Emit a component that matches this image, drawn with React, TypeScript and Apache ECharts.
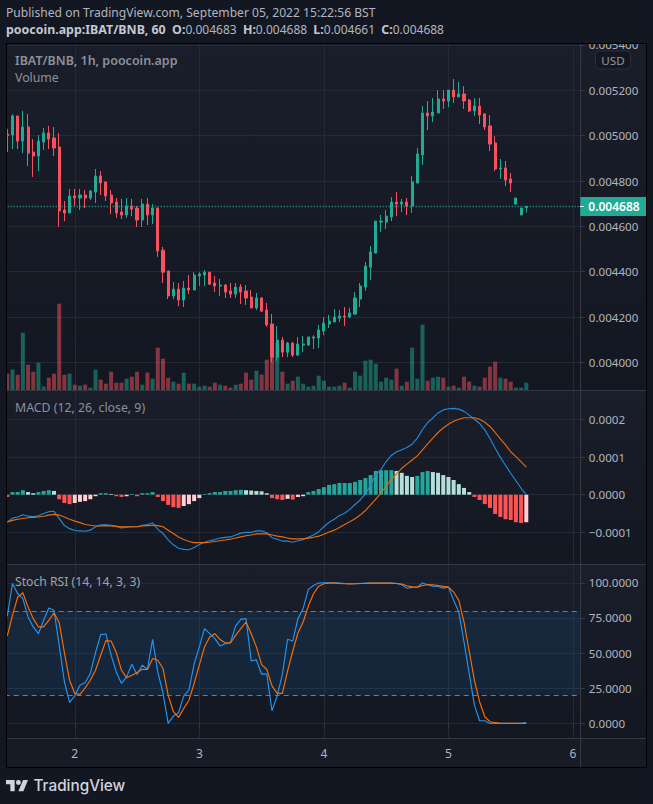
import React, { useEffect, useRef } from "react";
import * as echarts from "echarts";

// Prices in millionths of BNB
const opens = [5007,5003,5087,4976,5038,4928,4910,4972,5012,4990,
4950,4672,4659,4734,4725,4738,4725,4751,4822,4796,
4738,4707,4663,4650,4690,4681,4628,4698,4650,4681,
4495,4403,4293,4323,4275,4328,4319,4381,4385,4398,
4350,4337,4341,4315,4301,4332,4315,4288,4240,4284,
4231,4169,4023,4098,4045,4085,4032,4076,4076,4107,
4107,4138,4169,4178,4195,4204,4200,4213,4279,4332,
4420,4482,4619,4619,4641,4707,4698,4707,4690,4791,
4915,5100,5087,5100,5162,5153,5201,5171,5184,5157,
5109,5131,5096,5043,4968,4853,4857,4809,4698,4650,4683];
const closes = [5001,5087,4976,5038,4923,4910,4976,5012,4985,4946,
4668,4659,4734,4725,4738,4725,4756,4822,4791,4734,
4703,4659,4650,4690,4676,4628,4698,4650,4681,4491,
4398,4293,4323,4275,4328,4319,4385,4390,4398,4345,
4337,4341,4310,4301,4332,4310,4284,4240,4284,4226,
4165,4023,4098,4045,4085,4032,4081,4081,4112,4112,
4143,4173,4182,4200,4204,4200,4218,4284,4337,4425,
4487,4623,4623,4645,4707,4698,4707,4690,4796,4919,
5100,5087,5104,5162,5153,5201,5171,5184,5153,5109,
5131,5091,5038,4963,4853,4857,4804,4791,4725,4681,4688];
const highs = [5029,5094,5087,5109,5095,4985,5003,5034,5043,5038,
5012,4712,4765,4765,4765,4760,4760,4853,4844,4796,
4760,4725,4721,4725,4721,4690,4721,4725,4698,4681,
4509,4403,4354,4350,4359,4385,4398,4398,4407,4398,
4381,4368,4345,4350,4350,4345,4341,4319,4306,4288,
4262,4213,4160,4112,4090,4090,4112,4116,4112,4120,
4165,4200,4209,4235,4231,4244,4240,4310,4350,4443,
4513,4623,4650,4672,4729,4751,4721,4725,4822,4946,
5131,5153,5166,5201,5201,5201,5250,5237,5219,5162,
5166,5166,5100,5091,4998,4897,4888,4835,4725,4681,4688];
const lows = [4928,4941,4941,4923,4866,4818,4844,4937,4941,4910,
4597,4623,4659,4690,4672,4681,4716,4703,4738,4712,
4654,4637,4632,4637,4645,4597,4597,4606,4610,4465,
4350,4279,4279,4248,4244,4301,4319,4337,4337,4341,
4310,4293,4284,4284,4284,4257,4253,4240,4231,4222,
4156,4001,4006,4023,4023,4023,4028,4045,4072,4059,
4063,4120,4151,4178,4178,4160,4195,4209,4244,4315,
4363,4482,4575,4588,4623,4645,4663,4650,4659,4791,
4871,5025,5060,5100,5118,5126,5144,5171,5118,5104,
5087,5051,5025,4932,4844,4809,4778,4751,4698,4650,4661];
// Volume, in arbitrary units (the axis has no labels)
const volumes = [49,61,46,172,76,55,82,10,37,49,
259,46,49,16,13,16,7,61,31,19,
55,22,22,34,40,55,16,52,34,127,
94,37,25,19,52,19,19,10,13,10,
22,16,13,7,16,19,52,31,58,46,
91,118,142,55,19,28,40,19,10,13,
43,28,10,10,13,22,7,55,43,88,
91,79,25,37,31,64,13,25,127,34,
196,28,37,40,37,10,13,7,40,25,
13,10,37,70,85,37,34,25,7,7,22];
// MACD, in millionths
const macdLine = [-73,-62,-59,-53,-57,-58,-56,-50,-45,-44,
-63,-82,-90,-95,-96,-97,-94,-85,-80,-80,
-81,-84,-88,-86,-85,-85,-81,-79,-75,-92,
-103,-120,-133,-142,-145,-146,-140,-132,-126,-122,
-119,-115,-113,-112,-107,-102,-100,-100,-96,-96,
-101,-114,-118,-123,-123,-126,-122,-119,-113,-107,
-98,-85,-73,-65,-55,-49,-39,-26,-14,2,
26,52,67,88,104,114,119,125,134,150,
173,191,204,217,225,228,229,227,221,211,
200,189,172,149,123,99,78,57,37,17,0];
const signalLine = [-72,-68,-65,-63,-61,-60,-59,-57,-54,-52,
-54,-59,-65,-70,-74,-79,-81,-83,-83,-82,
-83,-84,-85,-85,-85,-85,-83,-82,-81,-82,
-85,-94,-103,-112,-119,-124,-127,-127,-127,-126,
-124,-122,-120,-118,-115,-112,-109,-107,-104,-104,
-104,-107,-110,-112,-115,-117,-117,-117,-115,-113,
-110,-105,-99,-94,-87,-79,-72,-64,-54,-42,
-27,-12,4,23,41,55,70,81,92,103,
119,135,150,165,177,187,195,200,204,204,
204,200,192,181,165,148,132,114,101,87,73];
const histogram = [-6,7,7,12,7,4,7,10,12,10,
-12,-22,-25,-22,-19,-17,-12,-4,4,4,
2,-4,-6,-4,2,-4,4,4,7,-6,
-17,-27,-33,-35,-30,-25,-17,-9,2,4,
7,7,10,10,12,13,12,11,10,9,
4,-9,-12,-14,-11,-13,-6,-4,7,10,
15,20,26,28,31,31,31,34,39,44,
52,63,65,65,65,63,58,50,47,50,
60,63,60,58,52,47,39,28,18,7,
-6,-14,-25,-35,-51,-59,-65,-67,-73,-75,-73];
// Stoch RSI
const stochK = [76.1,99.5,92.2,88.7,75.7,68.6,63.8,73.3,82.0,80.4,
55.6,29.6,14.9,19.6,27.2,29.1,35.5,50.4,63.1,63.6,
48.5,36.6,28.4,33.1,42.1,34.8,41.4,38.5,59.8,36.6,
21.3,0,5.2,7.6,19.6,23.6,42.1,54.4,67.4,63.8,
60.3,55.1,56.7,57.4,69.3,74.0,74.5,44.4,45.2,35.0,
35.0,9.0,19.6,34.8,59.8,58.6,74.5,81.6,95.3,98.1,
99.8,100,100,100,99.8,99.5,99.3,99.3,99.5,99.8,
99.8,99.8,99.8,99.8,99.8,99.5,98.6,96.2,96.7,96.9,
99.8,98.6,97.6,97.4,96.2,96.9,87.5,79.2,57.9,35.5,
13.0,1.9,1.9,0,0,0,0,0,0,0.1,0.5];
const stochD = [62.2,76.8,89.8,92.9,82.7,74.5,68.6,68.6,73.3,78.5,
71.6,50.4,30.7,21.3,20.6,25.3,30.7,37.8,48.5,58.9,
58.6,50.4,37.8,32.4,34.3,36.2,38.5,38.3,46.1,44.9,
39.0,20.1,8.3,4.3,10.6,16.5,28.4,41.4,54.4,61.5,
63.8,59.6,57.2,57.2,62.6,67.4,72.1,63.8,54.4,41.8,
38.3,26.7,21.3,21.3,37.1,51.3,64.3,72.1,83.5,92.2,
97.6,99.3,99.8,99.8,99.5,99.3,99.1,99.3,99.5,99.5,
99.8,99.8,99.8,99.8,99.8,99.5,99.1,97.9,97.2,96.9,
98.1,98.6,98.6,98.1,97.4,96.9,93.4,87.5,72.1,51.3,
30.7,15.4,4.7,1.2,0.5,0,0,0,0,0,0];
const dayTicks: Record<number, string> = { 13: "2", 37: "3", 61: "4", 85: "5", 109: "6" };
const categories = Array.from({ length: 111 }, (_, i) => dayTicks[i] ?? "");
const priceTicks = [0.0054, 0.0052, 0.005, 0.0048, 0.0046, 0.0044, 0.0042, 0.004];
const macdTicks = [0.0002, 0.0001, 0, -0.0001];
const stochTicks = [100, 75, 50, 25, 0];
const lastPrice = 0.004688;

const PAGE = "#131722";
const UP = "#22ab94";
const DOWN = "#f7525f";
const GRID = "#252934";
const SEP = "#343843";
const LABEL = "#b2b5be";
const FONT = "'Noto Sans', 'Open Sans', sans-serif";
const FS = 11.6;

const TV_LOGO =
  "M14 22H7V11H0V4h14v18zM28 22h-8l7.5-18h8L28 22zM24 8a4 4 0 1 1-8 0a4 4 0 0 1 8 0z";

const isDay = (_i: number, v: string) => v !== "";

function xAxis(gridIndex: number, last: boolean) {
  return {
    type: "category",
    gridIndex,
    data: categories,
    boundaryGap: true,
    axisLine: { show: false },
    axisTick: last
      ? { show: true, length: 4, interval: isDay, alignWithLabel: true, lineStyle: { color: SEP } }
      : { show: false },
    axisLabel: last
      ? { show: true, interval: isDay, color: LABEL, fontFamily: FONT, fontSize: 12, margin: 9 }
      : { show: false },
    splitLine: {
      show: true,
      interval: isDay,
      alignWithLabel: true,
      lineStyle: { color: GRID, width: 1 },
    },
  };
}

function yAxis(gridIndex: number, min: number, max: number, ticks: number[], fmt: (v: number) => string) {
  return {
    type: "value",
    gridIndex,
    position: "right",
    min,
    max,
    axisLine: { show: false },
    axisTick: { show: true, length: 4, customValues: ticks, lineStyle: { color: SEP } },
    axisLabel: {
      show: true,
      customValues: ticks,
      formatter: fmt,
      color: LABEL,
      fontFamily: FONT,
      fontSize: FS,
      margin: 8,
    },
    splitLine: { show: true, lineStyle: { color: GRID, width: 1 } },
  };
}

function paneBg(top: number, bottom: number) {
  return {
    type: "rect",
    silent: true,
    z: -10,
    shape: { x: 7, y: top, width: 639, height: bottom - top },
    style: {
      fill: new echarts.graphic.LinearGradient(0, 0, 0, 1, [
        { offset: 0, color: "#1a1e2a" },
        { offset: 1, color: "#131722" },
      ]),
    },
  };
}

function hLine(x1: number, y1: number, x2: number, y2: number, stroke: string, z: number) {
  return { type: "line", silent: true, z, shape: { x1, y1, x2, y2 }, style: { stroke, lineWidth: 1 } };
}

function txt(x: number, y: number, text: string, fill: string, extra: object = {}) {
  return {
    type: "text",
    silent: true,
    z: 60,
    x,
    y,
    style: { text, fill, fontFamily: FONT, fontSize: 12, verticalAlign: "middle", ...extra },
  };
}

export default function App() {
  const ref = useRef<HTMLDivElement>(null);
  useEffect(() => {
    document.body.style.margin = "0";
    document.body.style.background = PAGE;
    echarts.graphic.registerShape("tvlogo", echarts.graphic.extendPath(TV_LOGO, {}));
    const chart = echarts.init(ref.current!, undefined, { renderer: "svg" });
    const candle = opens.map((o, i) => [o / 1e6, closes[i] / 1e6, lows[i] / 1e6, highs[i] / 1e6]);
    const line = (name: string, data: number[], color: string, xi: number, extra: object = {}) => ({
      name,
      type: "line",
      xAxisIndex: xi,
      yAxisIndex: xi === 1 ? 2 : 3,
      data,
      showSymbol: false,
      symbol: "none",
      z: 4,
      lineStyle: { color, width: 1.15 },
      ...extra,
    });
    chart.setOption({
      animation: false,
      backgroundColor: PAGE,
      grid: [
        { left: 4.7, width: 576.09, top: 43.5, height: 346.5 },
        { left: 4.7, width: 576.09, top: 390.5, height: 173.5 },
        { left: 4.7, width: 576.09, top: 564.5, height: 173.8 },
      ],
      xAxis: [xAxis(0, false), xAxis(1, false), xAxis(2, true)],
      yAxis: [
        yAxis(0, 0.003878, 0.0054066, priceTicks, (v) => v.toFixed(6)),
        { type: "value", gridIndex: 0, min: 0, max: 1040, show: false, splitLine: { show: false } },
        yAxis(1, -0.0001838, 0.0002764, macdTicks, (v) =>
          (Math.abs(v) < 1e-9 ? "0.0000" : v.toFixed(4)).replace("-", "\u2212")
        ),
        yAxis(2, -10.6, 113, stochTicks, (v) => v.toFixed(4)),
      ],
      series: [
        {
          name: "Volume",
          type: "bar",
          xAxisIndex: 0,
          yAxisIndex: 1,
          barWidth: 4,
          z: 1,
          data: volumes.map((v, i) => ({
            value: v,
            itemStyle: { color: closes[i] >= opens[i] ? "rgba(34,171,148,0.5)" : "rgba(247,82,95,0.5)" },
          })),
        },
        {
          name: "IBAT/BNB",
          type: "candlestick",
          xAxisIndex: 0,
          yAxisIndex: 0,
          barWidth: 2.6,
          z: 3,
          data: candle,
          itemStyle: { color: UP, color0: DOWN, borderColor: UP, borderColor0: DOWN, borderWidth: 1 },
        },
        {
          name: "Last price",
          type: "line",
          xAxisIndex: 0,
          yAxisIndex: 0,
          symbol: "none",
          showSymbol: false,
          lineStyle: { opacity: 0 },
          z: 20,
          data: closes.map((c, i) => (i === closes.length - 1 ? lastPrice : null)),
          markLine: {
            silent: true,
            symbol: "none",
            z: 20,
            precision: 6,
            lineStyle: { color: UP, type: [1, 2], width: 1.3 },
            label: {
              show: true,
              position: "end",
              distance: -0.5,
              formatter: () => lastPrice.toFixed(6),
              color: "#ffffff",
              backgroundColor: UP,
              fontFamily: FONT,
              fontSize: 12,
              fontWeight: 600,
              padding: [3.5, 9, 3.5, 8],
            },
            data: [{ yAxis: lastPrice }],
          },
        },
        {
          name: "Histogram",
          type: "bar",
          xAxisIndex: 1,
          yAxisIndex: 2,
          barWidth: 4,
          z: 2,
          data: histogram.map((v, i) => {
            const prev = i > 0 ? histogram[i - 1] : 0;
            const color =
              v >= 0 ? (v >= prev ? "#26a69a" : "#b2dfdb") : v < prev ? "#ff5252" : "#ffcdd2";
            return { value: v / 1e6, itemStyle: { color } };
          }),
        },
        line("MACD", macdLine.map((v) => v / 1e6), "#2189d8", 1),
        line("Signal", signalLine.map((v) => v / 1e6), "#e86a0a", 1),
        line("%K", stochK, "#2196f3", 2, {
          markArea: {
            silent: true,
            itemStyle: { color: "rgba(33,150,243,0.1)" },
            data: [[{ yAxis: 80 }, { yAxis: 20 }]],
          },
          markLine: {
            silent: true,
            symbol: "none",
            label: { show: false },
            lineStyle: { color: "#787b86", type: [5, 4], width: 1 },
            data: [{ yAxis: 80 }, { yAxis: 20 }],
          },
        }),
        line("%D", stochD, "#ff6d00", 2),
      ],
      graphic: [
        paneBg(43, 390),
        paneBg(390, 564),
        paneBg(564, 738),
        { type: "rect", silent: true, z: -10, shape: { x: 7, y: 738, width: 639, height: 29 }, style: { fill: "#171b26" } },
        // frame
        { type: "rect", silent: true, z: 50, shape: { x: 0, y: 0, width: 653, height: 43 }, style: { fill: PAGE } },
        { type: "rect", silent: true, z: 50, shape: { x: 0, y: 0, width: 6.5, height: 804 }, style: { fill: PAGE } },
        { type: "rect", silent: true, z: 50, shape: { x: 0, y: 767, width: 653, height: 37 }, style: { fill: PAGE } },
        { type: "rect", silent: true, z: 50, shape: { x: 646.5, y: 0, width: 7, height: 804 }, style: { fill: PAGE } },
        hLine(6.5, 43.5, 646.5, 43.5, "#000000", 51),
        hLine(6.5, 767.5, 646.5, 767.5, "#000000", 51),
        hLine(6.5, 43, 6.5, 768, "#000000", 51),
        hLine(646.5, 43, 646.5, 768, "#000000", 51),
        hLine(7, 390.5, 646, 390.5, SEP, 10),
        hLine(7, 564.5, 646, 564.5, SEP, 10),
        hLine(7, 738.5, 646, 738.5, SEP, 10),
        hLine(580.5, 44, 580.5, 767, SEP, 10),
        hLine(580, 206.5, 584, 206.5, "#ffffff", 70),
        // USD button
        {
          type: "rect",
          silent: true,
          z: 40,
          shape: { x: 595.5, y: 51, width: 35, height: 18, r: 4 },
          style: { fill: PAGE, stroke: "#2a2e39", lineWidth: 1 },
        },
        txt(613, 60, "USD", "#9598a1", { align: "center", fontSize: FS }),
        // header
        txt(6, 12.5, "Published on TradingView.com, September 05, 2022 15:22:56 BST", "#b2b5be", { fontSize: 12.1 }),
        {
          type: "text",
          silent: true,
          z: 60,
          x: 6,
          y: 29.5,
          style: {
            text: "{b|poocoin.app:IBAT/BNB, 60  O:}{n|0.004683  }{b|H:}{n|0.004688  }{b|L:}{n|0.004661  }{b|C:}{n|0.004688}",
            verticalAlign: "middle",
            rich: {
              b: { fontFamily: FONT, fontSize: 12.4, fontWeight: 700, fill: "#c5c7ce" },
              n: { fontFamily: FONT, fontSize: 12, fill: "#b2b5be" },
            },
          },
        },
        // pane legends
        txt(15, 60.5, "IBAT/BNB, 1h, poocoin.app", "#8d909a", { fontWeight: 600, fontSize: 12.5 }),
        txt(15, 77.5, "Volume", "#8d909a", { fontSize: 12.3 }),
        txt(15, 407, "MACD (12, 26, close, 9)", "#8d909a", { fontSize: 12.3 }),
        txt(15, 581, "Stoch RSI (14, 14, 3, 3)", "#a0a3ab", { fontSize: 12.2 }),
        // brand
        {
          type: "tvlogo",
          silent: true,
          z: 60,
          x: 6,
          y: 777.5,
          scaleX: 0.62,
          scaleY: 0.62,
          style: { fill: "#d1d4dc" },
        },
        txt(33.5, 785.5, "TradingView", "#d1d4dc", { fontFamily: "Inter, 'Noto Sans', sans-serif", fontSize: 15.3, fontWeight: 500 }),
      ],
    });
    return () => chart.dispose();
  }, []);
  return <div ref={ref} style={{ position: "fixed", left: 0, top: 0, width: 653, height: 804 }} />;
}
